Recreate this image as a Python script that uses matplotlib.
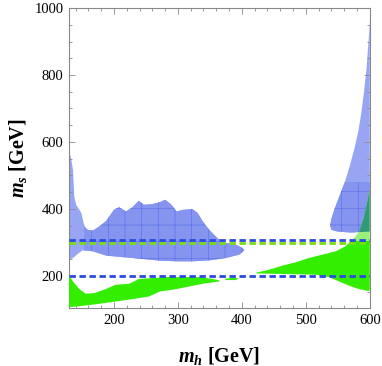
import matplotlib.pyplot as plt
from matplotlib.patches import Rectangle

plt.rcParams['font.family'] = ['Liberation Serif', 'DejaVu Serif']
plt.rcParams['mathtext.fontset'] = 'custom'
plt.rcParams['mathtext.it'] = 'Liberation Serif:italic:bold'
plt.rcParams['mathtext.rm'] = 'Liberation Serif:bold'
plt.rcParams['hatch.linewidth'] = 0.4

# blue region (left), traced clockwise from top-left
blue_left_x = [130, 132, 134, 136, 138, 141, 149, 154, 159, 167, 177, 188, 200, 208, 219, 229,
               239, 247, 260, 272, 280, 290, 298, 308, 323, 331, 339, 349, 362, 375, 391, 401,
               404, 396, 375, 350, 323, 298, 272, 229, 188, 167, 151, 144, 136, 130]
blue_left_y = [555, 560, 540, 516, 437, 412, 388, 347, 337, 335, 347, 364, 397, 405, 392, 405,
               424, 412, 414, 420, 427, 412, 392, 397, 399, 387, 362, 337, 312, 298, 293, 283,
               276, 263, 253, 246, 243, 243, 245, 253, 260, 273, 276, 266, 253, 248]

# blue region (right)
blue_right_x = [600, 598, 595, 591, 587, 582, 576, 569, 561, 553, 545, 540, 538, 540, 550, 570, 600]
blue_right_y = [965, 900, 820, 750, 690, 630, 580, 530, 480, 440, 400, 370, 350, 337, 332, 329, 332]

# green region (lower left)
green_left_x = [130, 131, 136, 146, 156, 169, 182, 203, 224, 239, 260, 281, 303, 334, 355, 365,
                365, 339, 313, 292, 272, 255, 229, 203, 177, 151, 130]
green_left_y = [200, 198, 183, 160, 146, 148, 156, 173, 176, 190, 193, 196, 196, 196, 190, 186,
                183, 176, 166, 158, 153, 138, 130, 123, 116, 110, 106]

green_bit_x = [373, 385, 396, 390, 375]
green_bit_y = [190, 194, 192, 187, 187]

# green region (right)
green_right_x = [422, 443, 463, 484, 505, 526, 547, 562, 572, 583, 590, 595, 600,
                 600, 596, 583, 568, 552, 536, 515, 422]
green_right_y = [209, 218, 230, 240, 253, 263, 273, 288, 305, 330, 370, 410, 460,
                 155, 155, 160, 170, 183, 196, 203, 207]

blue_line_y = [307, 200]
green_line_y = 298

fig = plt.figure(figsize=(3.82, 3.66), dpi=100)
ax = fig.add_axes([0.181, 0.158, 0.787, 0.820])
ax.set_xlim(130, 600)
ax.set_ylim(103, 1000)

blue_light = '#97a5f3'
blue_face = '#8494ef'
blue_hatch = '#5a6de8'

# blue regions: light fill everywhere, darker grid-hatched fill on the inner part
for bx, by, clip in [(blue_left_x, blue_left_y, (153, 0, 500, 1000)),
                     (blue_right_x, blue_right_y, (0, 0, 700, 481))]:
    ax.fill(bx, by, color=blue_light, lw=0, zorder=1)
    p = ax.fill(bx, by, facecolor=blue_face, edgecolor=blue_hatch, hatch='+', lw=0, zorder=2)[0]
    p.set_clip_path(Rectangle(clip[:2], clip[2], clip[3], transform=ax.transData))

blue_right = ax.fill(blue_right_x, blue_right_y, facecolor='none', lw=0, zorder=0)[0]

# green regions
ax.fill(green_left_x, green_left_y, color='#33ee00', lw=0, zorder=3)
ax.fill(green_bit_x, green_bit_y, color='#33ee00', lw=0, zorder=3)
g_low = ax.fill(green_right_x, green_right_y, color='#33ee00', lw=0, zorder=3)[0]
g_low.set_clip_path(Rectangle((0, 0), 700, 305, transform=ax.transData))
g_up = ax.fill(green_right_x, green_right_y, color='#9af07a', lw=0, zorder=3)[0]
g_up.set_clip_path(Rectangle((0, 305), 700, 800, transform=ax.transData))
g_mix = ax.fill(green_right_x, green_right_y, color='#2f9a78', lw=0, zorder=4)[0]
g_mix.set_clip_path(blue_right)

# dashed reference lines
ax.axhline(green_line_y, color='#77dd11', lw=2.0, dashes=(2.3, 1.3), zorder=5)
for yv in blue_line_y:
    ax.axhline(yv, color='#2a4be0', lw=2.0, dashes=(2.3, 1.3), zorder=6)

ax.set_xticks([200, 300, 400, 500, 600])
ax.set_xticks(range(140, 600, 20), minor=True)
ax.set_yticks([200, 400, 600, 800, 1000])
ax.set_yticks(range(150, 1000, 50), minor=True)
ax.tick_params(which='both', direction='in', top=True, right=True, color='#888888',
               labelsize=10.5, width=0.6, pad=4)
ax.tick_params(which='major', length=4)
ax.tick_params(which='minor', length=2)
for s in ax.spines.values():
    s.set_color('#888888')
    s.set_linewidth(0.8)

ax.set_xlabel(r'$m_h$ [GeV]', fontsize=14.5, fontweight='bold', labelpad=13)
ax.set_ylabel(r'$m_s$ [GeV]', fontsize=14.5, fontweight='bold', labelpad=4)

fig.savefig('out.png', dpi=100)
